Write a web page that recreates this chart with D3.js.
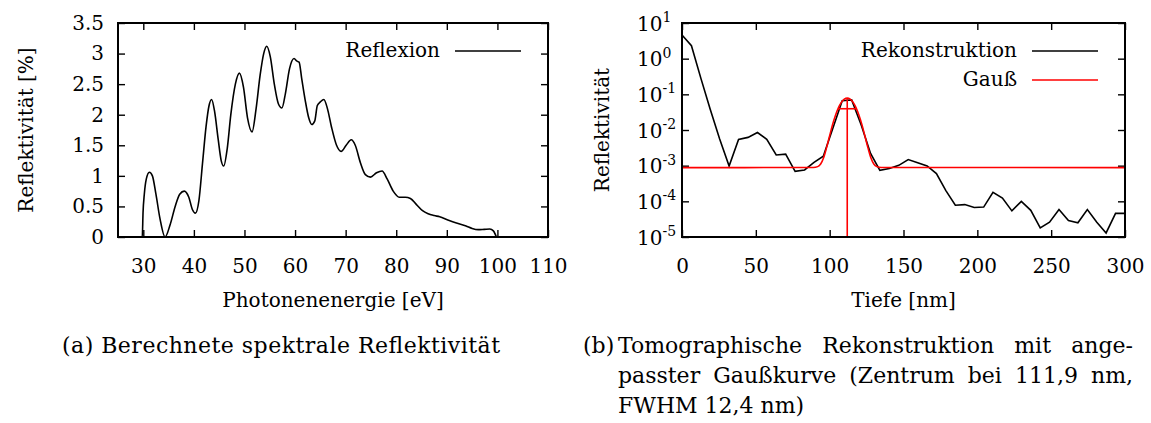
<!DOCTYPE html>
<html>
<head>
<meta charset="utf-8">
<script src="https://cdn.jsdelivr.net/npm/d3@7"></script>
<style>
  body { margin: 0; background: #fff; }
  svg { display: block; }
  text { font-family: "DejaVu Serif", serif; fill: #000; }
</style>
</head>
<body>
<svg id="fig" width="1151" height="423"></svg>
<script>
// ---- (a) computed spectral reflectivity ----
const energy = [25, 29.8, 29.95, 30.2, 30.6, 31.2, 31.8, 32.5, 33.3, 34.3,
  35.3, 36.3, 37.2, 38.1, 39.0, 39.7, 40.3, 41.0, 41.7, 42.4,
  43.0, 43.5, 44.1, 44.8, 45.4, 45.9, 46.6, 47.3, 48.2, 49.0,
  49.8, 50.6, 51.5, 52.3, 53.1, 53.8, 54.4, 55.1, 55.9, 56.7,
  57.4, 58.1, 58.9, 59.8, 60.3, 60.8, 61.3, 62.0, 62.7, 63.3,
  63.9, 64.4, 65.0, 65.7, 66.4, 67.2, 68.2, 69.1, 70.1, 71.1,
  71.9, 72.9, 73.9, 74.9, 76.1, 77.2, 78.2, 79.4, 80.6, 81.8,
  82.8, 84.0, 85.2, 86.3, 87.5, 88.6, 90.2, 91.9, 93.8, 95.0,
  96.2, 97.4, 98.5, 99.2, 99.8];
const reflectivity = [0, 0, 0.4, 0.7, 0.95, 1.06, 1.0, 0.7, 0.3, 0.0,
  0.2, 0.5, 0.7, 0.75, 0.65, 0.45, 0.39, 0.6, 1.2, 1.8,
  2.15, 2.25, 2.05, 1.6, 1.25, 1.16, 1.45, 2.0, 2.5, 2.68,
  2.45, 1.95, 1.72, 2.1, 2.65, 3.0, 3.12, 2.95, 2.5, 2.18,
  2.11, 2.35, 2.75, 2.92, 2.88, 2.86, 2.6, 2.24, 1.95, 1.84,
  1.9, 2.15, 2.21, 2.25, 2.1, 1.8, 1.5, 1.40, 1.5, 1.59,
  1.5, 1.22, 1.02, 0.98, 1.05, 1.08, 0.95, 0.75, 0.65, 0.65,
  0.63, 0.53, 0.43, 0.38, 0.35, 0.33, 0.28, 0.23, 0.18, 0.14,
  0.12, 0.125, 0.13, 0.1, 0];
const energyTicks = [30, 40, 50, 60, 70, 80, 90, 100, 110];
const reflTicks = [0, 0.5, 1, 1.5, 2, 2.5, 3, 3.5];

// ---- (b) tomographic reconstruction with fitted Gaussian ----
const depth = [0, 6.4, 12.8, 19.1, 25.5, 31.9, 38.3, 44.7, 51.1, 57.4,
  63.8, 70.2, 76.6, 83.0, 89.4, 95.7, 102.1, 108.5, 114.9, 121.3,
  127.7, 134.0, 140.4, 146.8, 153.2, 159.6, 166.0, 172.3, 178.7, 185.1,
  191.5, 197.9, 204.3, 210.6, 217.0, 223.4, 229.8, 236.2, 242.6, 248.9,
  255.3, 261.7, 268.1, 274.5, 280.9, 287.2, 293.6, 300.0];
const reconstruction = [4.6, 2.3, 0.28, 0.038, 0.0056, 9.8e-4, 5.4e-3, 6.2e-3, 8.5e-3, 5.5e-3,
  2.0e-3, 2.1e-3, 6.9e-4, 7.6e-4, 1.23e-3, 1.85e-3, 0.011, 0.066, 0.07, 0.014,
  0.0022, 7.4e-4, 8.3e-4, 1.02e-3, 1.48e-3, 1.2e-3, 9.8e-4, 6.0e-4, 2.0e-4, 7.8e-5,
  8.1e-5, 6.7e-5, 6.9e-5, 1.8e-4, 1.24e-4, 5.4e-5, 1.0e-4, 5.6e-5, 1.8e-5, 2.6e-5,
  5.9e-5, 2.9e-5, 2.5e-5, 5.9e-5, 2.6e-5, 1.3e-5, 4.6e-5, 4.6e-5];
const gaussDepth = [0, 88.9, 91.9, 93.9, 95.9, 97.9, 99.9, 101.9, 103.9, 105.9,
  107.9, 109.9, 111.9, 113.9, 115.9, 117.9, 119.9, 121.9, 123.9, 125.9,
  127.9, 129.9, 131.9, 134.9, 300];
const gaussValue = [0.00088, 0.00089, 0.00094, 0.00111, 0.00166, 0.0032, 0.0067, 0.0138, 0.0255, 0.0417,
  0.0594, 0.0734, 0.0789, 0.0734, 0.0594, 0.0417, 0.0255, 0.0138, 0.0067, 0.0032,
  0.00166, 0.00111, 0.00094, 0.00089, 0.00088];
const fitCenter = 111.9;    // nm
const fitFwhm = 12.4;       // nm
const fitPeak = 0.0789;
const depthTicks = [0, 50, 100, 150, 200, 250, 300];
const logExponents = [-5, -4, -3, -2, -1, 0, 1];

const svg = d3.select("#fig");
const FS = 20;

// ---------- panel (a) ----------
const A = { left: 118, right: 548, top: 23, bottom: 237 };
const xA = d3.scaleLinear().domain([25, 110]).range([A.left, A.right]);
const yA = d3.scaleLinear().domain([0, 3.5]).range([A.bottom, A.top]);

function styleAxis(g) {
  g.select(".domain").remove();
  g.selectAll(".tick line").attr("stroke", "#000").attr("stroke-width", 1.4);
  g.selectAll("text").attr("font-family", "DejaVu Serif").attr("font-size", FS).attr("fill", "#000");
}

svg.append("g").attr("transform", `translate(0,${A.bottom})`)
  .call(d3.axisBottom(xA).tickValues(energyTicks).tickSize(-7).tickPadding(22).tickFormat(d3.format("d")))
  .call(styleAxis);
svg.append("g").attr("transform", `translate(0,${A.top})`)
  .call(d3.axisTop(xA).tickValues(energyTicks).tickSize(-7).tickFormat(""))
  .call(styleAxis);
svg.append("g").attr("transform", `translate(${A.left},0)`)
  .call(d3.axisLeft(yA).tickValues(reflTicks).tickSize(-7).tickPadding(14).tickFormat(d => String(d)))
  .call(styleAxis);
svg.append("g").attr("transform", `translate(${A.right},0)`)
  .call(d3.axisRight(yA).tickValues(reflTicks).tickSize(-7).tickFormat(""))
  .call(styleAxis);

const lineA = d3.line()
  .x((d, i) => xA(energy[i]))
  .y(d => yA(d))
  .curve(d3.curveMonotoneX);
svg.append("path").datum(reflectivity)
  .attr("d", lineA).attr("fill", "none").attr("stroke", "#000").attr("stroke-width", 1.6);

svg.append("rect").attr("x", A.left).attr("y", A.top)
  .attr("width", A.right - A.left).attr("height", A.bottom - A.top)
  .attr("fill", "none").attr("stroke", "#000").attr("stroke-width", 2);

// legend (a)
svg.append("text").attr("x", 440).attr("y", 57).attr("text-anchor", "end")
  .attr("font-size", FS).text("Reflexion");
svg.append("line").attr("x1", 455).attr("x2", 521).attr("y1", 51).attr("y2", 51)
  .attr("stroke", "#000").attr("stroke-width", 1.6);

// axis titles (a)
svg.append("text").attr("transform", "translate(33,130) rotate(-90)")
  .attr("text-anchor", "middle").attr("font-size", FS).text("Reflektivität [%]");
svg.append("text").attr("x", (A.left + A.right) / 2).attr("y", 307)
  .attr("text-anchor", "middle").attr("font-size", FS).text("Photonenenergie [eV]");

// ---------- panel (b) ----------
const B = { left: 682, right: 1125, top: 23, bottom: 237 };
const xB = d3.scaleLinear().domain([0, 300]).range([B.left, B.right]);
const yB = d3.scaleLog().domain([1e-5, 10]).range([B.bottom, B.top]);
const logTicks = logExponents.map(e => Math.pow(10, e));

svg.append("g").attr("transform", `translate(0,${B.bottom})`)
  .call(d3.axisBottom(xB).tickValues(depthTicks).tickSize(-7).tickPadding(22).tickFormat(d3.format("d")))
  .call(styleAxis);
svg.append("g").attr("transform", `translate(0,${B.top})`)
  .call(d3.axisTop(xB).tickValues(depthTicks).tickSize(-7).tickFormat(""))
  .call(styleAxis);
const yAxisB = svg.append("g").attr("transform", `translate(${B.left},0)`)
  .call(d3.axisLeft(yB).tickValues(logTicks).tickSize(-7).tickPadding(14).tickFormat(""))
  .call(styleAxis);
yAxisB.selectAll(".tick text").each(function (d, i) {
  const t = d3.select(this).attr("text-anchor", "start").attr("x", -45).attr("dy", "0.36em");
  t.append("tspan").text("10");
  t.append("tspan").attr("font-size", 14).attr("dy", "-0.62em").text(String(logExponents[i]));
});
svg.append("g").attr("transform", `translate(${B.right},0)`)
  .call(d3.axisRight(yB).tickValues(logTicks).tickSize(-7).tickFormat(""))
  .call(styleAxis);

const lineRec = d3.line().x((d, i) => xB(depth[i])).y(d => yB(d));
svg.append("path").datum(reconstruction)
  .attr("d", lineRec).attr("fill", "none").attr("stroke", "#000").attr("stroke-width", 1.6);

const lineGauss = d3.line().x((d, i) => xB(gaussDepth[i])).y(d => yB(d)).curve(d3.curveMonotoneX);
svg.append("path").datum(gaussValue)
  .attr("d", lineGauss).attr("fill", "none").attr("stroke", "#ff0000").attr("stroke-width", 1.6);

// centre marker and FWHM bar
svg.append("line").attr("x1", xB(fitCenter)).attr("x2", xB(fitCenter))
  .attr("y1", yB(1e-5)).attr("y2", yB(fitPeak))
  .attr("stroke", "#ff0000").attr("stroke-width", 1.6);
svg.append("line").attr("x1", xB(fitCenter - fitFwhm / 2)).attr("x2", xB(fitCenter + fitFwhm / 2))
  .attr("y1", yB(fitPeak / 2)).attr("y2", yB(fitPeak / 2))
  .attr("stroke", "#ff0000").attr("stroke-width", 1.6);

svg.append("rect").attr("x", B.left).attr("y", B.top)
  .attr("width", B.right - B.left).attr("height", B.bottom - B.top)
  .attr("fill", "none").attr("stroke", "#000").attr("stroke-width", 2);

// legend (b)
svg.append("text").attr("x", 1017).attr("y", 57).attr("text-anchor", "end")
  .attr("font-size", FS).text("Rekonstruktion");
svg.append("line").attr("x1", 1032).attr("x2", 1098).attr("y1", 51).attr("y2", 51)
  .attr("stroke", "#000").attr("stroke-width", 1.6);
svg.append("text").attr("x", 1017).attr("y", 86).attr("text-anchor", "end")
  .attr("font-size", FS).text("Gauß");
svg.append("line").attr("x1", 1032).attr("x2", 1098).attr("y1", 80).attr("y2", 80)
  .attr("stroke", "#ff0000").attr("stroke-width", 1.6);

// axis titles (b)
svg.append("text").attr("transform", "translate(609,130) rotate(-90)")
  .attr("text-anchor", "middle").attr("font-size", FS).text("Reflektivität");
svg.append("text").attr("x", (B.left + B.right) / 2).attr("y", 307)
  .attr("text-anchor", "middle").attr("font-size", FS).text("Tiefe [nm]");

// ---------- captions ----------
const CFS = 22;
function justifiedLine(words, x0, x1, y) {
  const nodes = words.map(w => svg.append("text").attr("y", y).attr("font-size", CFS).text(w));
  const widths = nodes.map(n => n.node().getComputedTextLength());
  const gap = (x1 - x0 - d3.sum(widths)) / (words.length - 1);
  let x = x0;
  nodes.forEach((n, i) => { n.attr("x", x); x += widths[i] + gap; });
}
svg.append("text").attr("x", 62).attr("y", 353).attr("font-size", CFS)
  .attr("textLength", 438).attr("lengthAdjust", "spacing")
  .text("(a) Berechnete spektrale Reflektivität");
svg.append("text").attr("x", 583).attr("y", 353).attr("font-size", CFS).text("(b)");
justifiedLine(["Tomographische", "Rekonstruktion", "mit", "ange-"], 618, 1133, 353);
justifiedLine(["passter", "Gaußkurve", "(Zentrum", "bei", "111,9", "nm,"], 618, 1133, 383);
svg.append("text").attr("x", 618).attr("y", 413).attr("font-size", CFS).text("FWHM 12,4 nm)");
</script>
</body>
</html>
